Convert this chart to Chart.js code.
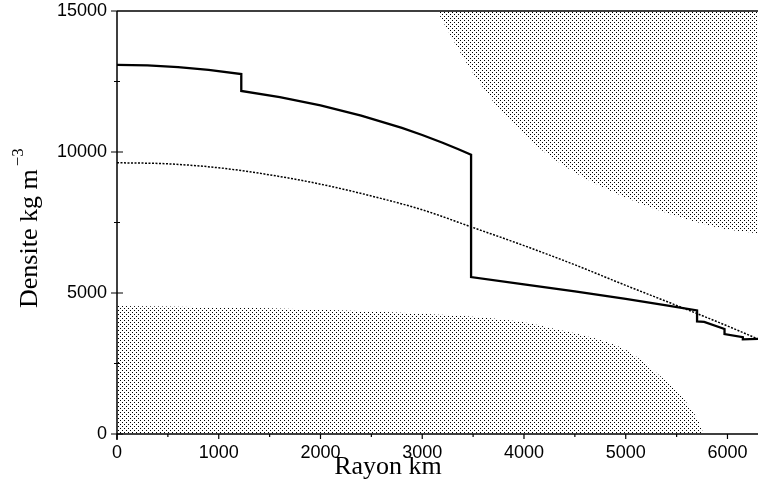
<!DOCTYPE html>
<html>
<head>
<meta charset="utf-8">
<script src="https://cdn.jsdelivr.net/npm/chart.js@4/dist/chart.umd.min.js"></script>
<style>
html,body{margin:0;padding:0;background:#fff;}
canvas{display:block;}
</style>
</head>
<body>
<canvas id="c" width="759" height="492"></canvas>
<script>
// ---- data (radius km, density kg m^-3) ----
const modelRadius = [0, 300, 600, 900, 1221.5, 1221.5, 1600, 2000, 2400, 2800, 3000, 3200, 3350, 3480, 3480, 4000, 4500, 5000, 5400, 5701, 5701, 5771, 5971, 5971, 6151, 6151, 6300];
const modelDensity = [13088, 13069, 13010, 12912, 12764, 12166, 11947, 11655, 11293, 10853, 10602, 10327, 10106, 9903, 5566, 5307, 5055, 4790, 4563, 4381, 3992, 3976, 3724, 3543, 3436, 3359, 3376];

const smoothRadius = [0, 500, 1000, 1500, 2000, 2500, 3000, 3500, 4000, 4500, 5000, 5500, 6000, 6300];
const smoothDensity = [9620, 9580, 9440, 9190, 8860, 8440, 7950, 7320, 6680, 6000, 5270, 4560, 3830, 3370];

const lowerRadius = [0, 500, 1000, 1500, 2000, 2500, 3000, 3500, 4000, 4250, 4500, 4750, 5000, 5100, 5250, 5400, 5500, 5650, 5720, 5765];
const lowerDensity = [4540, 4525, 4495, 4455, 4405, 4345, 4265, 4160, 3960, 3770, 3570, 3330, 2990, 2760, 2330, 1860, 1530, 850, 420, 0];

const upperRadius = [3147, 3265, 3461, 3686, 3980, 4412, 5059, 5882, 6300];
const upperDensity = [15000, 14220, 13014, 11844, 10674, 9468, 8298, 7340, 7110];

const xTickValues = [0, 1000, 2000, 3000, 4000, 5000, 6000];
const xMinorTicks = [500, 1500, 2500, 3500, 4500, 5500];
const yTickValues = [0, 5000, 10000, 15000];
const yMinorTicks = [2500, 7500, 12500];
const xTitle = "Rayon km";
const yTitle = "Densite kg m";
const yTitleExp = "\u22123";

function pts(xs, ys){ return xs.map((x,i)=>({x:x, y:ys[i]})); }

// dot pattern
const tile = document.createElement('canvas');
tile.width = 4; tile.height = 4;
const tc = tile.getContext('2d');
tc.fillStyle = '#000';
tc.fillRect(0,0,1,1);
tc.fillRect(2,2,1,1);
const ctx = document.getElementById('c').getContext('2d');
const dots = ctx.createPattern(tile, 'repeat');

const axesPlugin = {
  id: 'axesPlugin',
  afterDraw(chart){
    const c = chart.ctx, a = chart.chartArea;
    const xs = chart.scales.x, ys = chart.scales.y;
    c.save();
    c.strokeStyle = '#000';
    c.lineWidth = 1.5;
    c.beginPath();
    c.moveTo(a.left, a.top); c.lineTo(a.right, a.top);
    c.moveTo(a.left, a.top); c.lineTo(a.left, a.bottom + 6);
    c.moveTo(a.left, a.bottom); c.lineTo(a.right, a.bottom);
    c.stroke();
    c.lineWidth = 1.2;
    c.beginPath();
    yTickValues.forEach(v=>{ const y = ys.getPixelForValue(v); c.moveTo(a.left-6, y); c.lineTo(v===15000? a.left : a.left+6, y); });
    yMinorTicks.forEach(v=>{ const y = ys.getPixelForValue(v); c.moveTo(a.left-3, y); c.lineTo(a.left+3, y); });
    xTickValues.forEach(v=>{ const x = xs.getPixelForValue(v); c.moveTo(x, a.bottom); c.lineTo(x, a.bottom+5); });
    xMinorTicks.forEach(v=>{ const x = xs.getPixelForValue(v); c.moveTo(x, a.bottom); c.lineTo(x, a.bottom+3); });
    c.stroke();
    // titles
    c.fillStyle = '#000';
    c.font = '26px "Liberation Serif", "Times New Roman", serif';
    c.textAlign = 'center';
    c.textBaseline = 'alphabetic';
    c.fillText(xTitle, 388, 474);
    c.save();
    c.translate(37, 308);
    c.rotate(-Math.PI/2);
    c.textAlign = 'left';
    c.fillText(yTitle, 0, 0);
    const w = c.measureText(yTitle).width;
    c.font = '17px "Liberation Serif", "Times New Roman", serif';
    c.fillText(yTitleExp, w + 3, -14);
    c.restore();
    c.restore();
  }
};

new Chart(ctx, {
  type: 'line',
  data: {
    datasets: [
      { data: pts(lowerRadius, lowerDensity), borderWidth: 0, borderColor: 'rgba(0,0,0,0)', backgroundColor: dots, fill: 'origin', pointRadius: 0, cubicInterpolationMode: 'monotone' },
      { data: pts(upperRadius, upperDensity), borderWidth: 0, borderColor: 'rgba(0,0,0,0)', backgroundColor: dots, fill: 'end', pointRadius: 0, cubicInterpolationMode: 'monotone' },
      { data: pts(smoothRadius, smoothDensity), borderColor: '#000', borderWidth: 1.5, borderDash: [2,1.5], fill: false, pointRadius: 0, cubicInterpolationMode: 'monotone' },
      { data: pts(modelRadius, modelDensity), borderColor: '#000', borderWidth: 2.3, fill: false, pointRadius: 0, tension: 0 }
    ]
  },
  options: {
    responsive: false,
    animation: false,
    devicePixelRatio: 1,
    layout: { padding: { top: 11, right: 1, left: 0, bottom: 0 } },
    plugins: { legend: { display: false }, tooltip: { enabled: false } },
    scales: {
      x: {
        type: 'linear', min: 0, max: 6300,
        grid: { display: false, drawTicks: false },
        border: { display: false },
        afterBuildTicks: s => { s.ticks = xTickValues.map(v=>({value:v})); },
        afterFit: s => { s.height = 58; s.paddingLeft = 0; s.paddingRight = 0; },
        ticks: { color: '#000', font: { family: '"Liberation Sans", Arial, sans-serif', size: 18 }, padding: 8, maxRotation: 0, autoSkip: false, callback: v => String(v) }
      },
      y: {
        type: 'linear', min: 0, max: 15000,
        grid: { display: false, drawTicks: false },
        border: { display: false },
        afterBuildTicks: s => { s.ticks = yTickValues.map(v=>({value:v})); },
        afterFit: s => { s.width = 117; s.paddingTop = 0; s.paddingBottom = 0; },
        ticks: { color: '#000', font: { family: '"Liberation Sans", Arial, sans-serif', size: 18 }, padding: 10, autoSkip: false, callback: v => String(v) }
      }
    }
  },
  plugins: [axesPlugin]
});
</script>
</body>
</html>
